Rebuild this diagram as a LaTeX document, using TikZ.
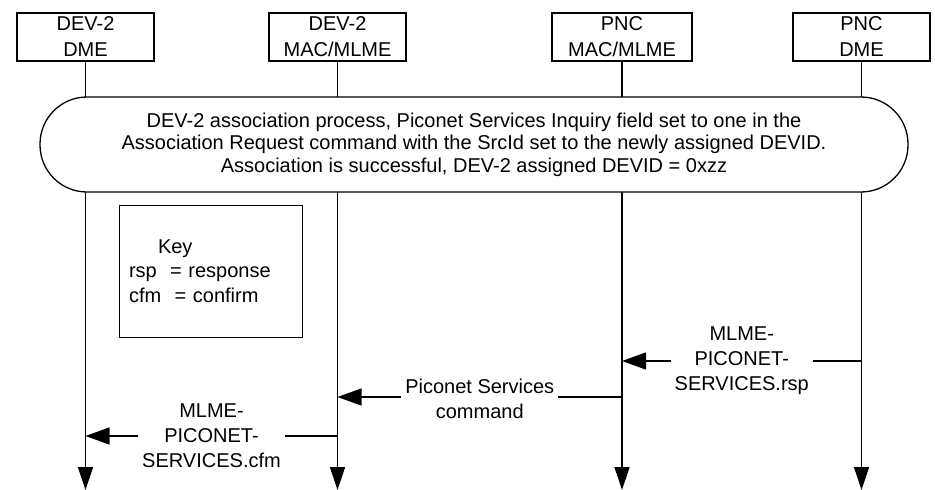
\documentclass[tikz,border=0pt]{standalone}
\usepackage{fontspec}
\setmainfont{Liberation Sans}
\usepackage{tikz}
\usetikzlibrary{arrows.meta,shapes}

\begin{document}
\begin{tikzpicture}[x=1pt,y=-1pt,font=\fontsize{20}{25}\selectfont]

		\useasboundingbox (0,0) rectangle (935,490);

		\tikzstyle{edge} = [draw,-,line width=1.3pt]
		\tikzstyle{life} = [edge,-{Triangle[length=23pt,width=15pt]}]
		\tikzstyle{msg} = [edge,-{Triangle[length=24pt,width=17pt]}]
		\tikzstyle{lbl} = [fill=white,inner xsep=4pt,inner ysep=0pt,align=center,midway]

		\tikzset{entity/.style = {shape=rectangle,draw,line width=1.3pt,minimum width=137pt,minimum height=48pt,inner sep=0pt,align=center,font=\fontsize{20}{26}\selectfont}}
		\node[entity] (dme2) at (85.5,37) {DEV-2\\DME};
		\node[entity] (mac2) at (337.5,37) {DEV-2\\MAC/MLME};
		\node[entity, minimum width=140pt] (pncmac) at (622,37) {PNC\\MAC/MLME};
		\node[entity] (pncdme) at (861.5,37) {PNC\\DME};

		\coordinate (dme2end) at (85.5,490);
		\coordinate (mac2end) at (337.5,490);
		\coordinate (pncmacend) at (622,490);
		\coordinate (pncdmeend) at (861.5,490);

		\draw[life] (dme2) to (dme2end);
		\draw[life] (mac2) to (mac2end);
		\draw[life] (pncmac) to (pncmacend);
		\draw[life] (pncdme) to (pncdmeend);

		\tikzset{proc/.style = {shape=rectangle,draw,fill=white,line width=1.3pt,rounded corners=47pt,minimum width=868pt,minimum height=95pt,align=center,font=\fontsize{20}{22.5}\selectfont}}
		\node[proc] (assoc) at (474,144.5) {DEV-2 association process, Piconet Services Inquiry field set to one in the\\Association Request command with the SrcId set to the newly assigned DEVID.\\Association is successful, DEV-2 assigned DEVID = 0xzz};

		\tikzset{keybox/.style = {shape=rectangle,draw,line width=1pt,text width=163pt,inner xsep=10pt,minimum height=132pt,align=left,font=\fontsize{20}{24.5}\selectfont}}
		\node[keybox] (key) at (210.5,271) {\hspace*{29pt}Key\\rsp~~= response\\cfm~~= confirm};

		\coordinate (rspA) at (861.5,361);
		\coordinate (rspB) at (622,361);
		\coordinate (cmdA) at (622,397);
		\coordinate (cmdB) at (337.5,397);
		\coordinate (cfmA) at (337.5,436);
		\coordinate (cfmB) at (85.5,436);

		\draw[msg] (rspA) to node[lbl] {MLME-\\PICONET-\\SERVICES.rsp} (rspB);
		\draw[msg] (cmdA) to node[lbl, yshift=-1.5pt] {Piconet Services\\command} (cmdB);
		\draw[msg] (cfmA) to node[lbl] {MLME-\\PICONET-\\SERVICES.cfm} (cfmB);
		\end{tikzpicture}
\end{document}
